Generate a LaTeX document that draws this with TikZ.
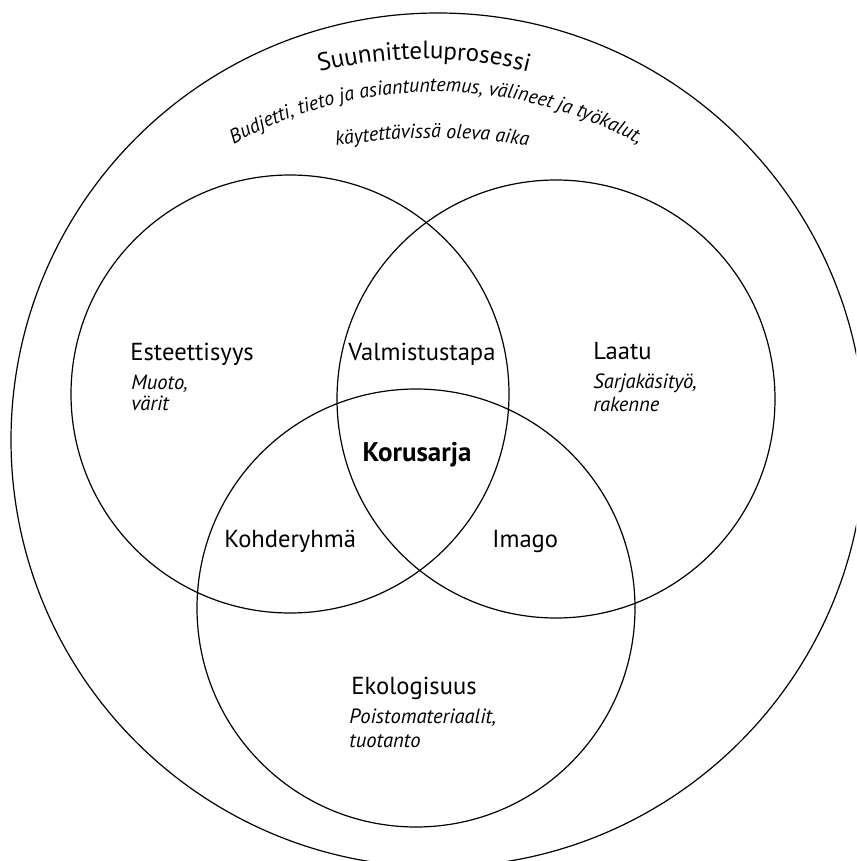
\documentclass[tikz,border=0pt]{standalone}
\usepackage{fontspec}
\setmainfont{PT Sans}
\usetikzlibrary{decorations.text}

\tikzset{
  ring/.style={circle, draw, line width=0.6pt, inner sep=0pt, outer sep=0pt, minimum size=#1},
  lbl/.style={anchor=base west, inner sep=0pt, font=\fontsize{12.3}{14}\selectfont},
  sub/.style={anchor=base west, inner sep=0pt, font=\fontsize{10.3}{12}\selectfont\itshape},
  arctext/.style={decorate, decoration={text along path, text align=center, text={#1}}}
}

\begin{document}
\begin{tikzpicture}[x=0.5pt, y=-0.5pt]
    \useasboundingbox (0,0) rectangle (856,861);
    \begin{scope}
        \clip (0,0) rectangle (856,861);
        \node[ring=427pt] (prosessi) at (438,440) {};
    \end{scope}
    \node[ring=219pt] (este) at (290,394) {};
    \node[ring=219pt] (laatu) at (556,399) {};
    \node[ring=219pt] (eko) at (416,608) {};

    % otsikot kaarella
    \path[arctext={|\fontsize{12.5}{15}\selectfont|Suunnitteluprosessi}]
        (424,489) ++(215:430) arc[start angle=215, end angle=325, radius=430];
    \path[arctext={|\fontsize{10}{12}\selectfont\itshape|Budjetti, tieto ja asiantuntemus, välineet ja työkalut,}]
        (436,510) ++(200:418) arc[start angle=200, end angle=340, radius=418];
    \path[arctext={|\fontsize{10}{12}\selectfont\itshape|käytettävissä oleva aika}]
        (432,728) ++(240:590) arc[start angle=240, end angle=300, radius=590];

    \node[lbl] (esteT) at (130,360) {Esteettisyys};
    \node[sub] (esteA) at (131,389) {Muoto,};
    \node[sub] (esteB) at (131,410) {värit};

    \node[lbl] (valm) at (348,360) {Valmistustapa};

    \node[lbl] (laatuT) at (593,359) {Laatu};
    \node[sub] (laatuA) at (593,388) {Sarjakäsityö,};
    \node[sub] (laatuB) at (593,411) {rakenne};

    \node[anchor=base, inner sep=0pt, font=\fontsize{13.5}{15}\selectfont\bfseries] (koru) at (417,461) {Korusarja};

    \node[lbl] (kohde) at (224,547) {Kohderyhmä};
    \node[lbl] (imago) at (492,547) {Imago};

    \node[lbl] (ekoT) at (351,694) {Ekologisuus};
    \node[sub] (ekoA) at (349,723) {Poistomateriaalit,};
    \node[sub] (ekoB) at (349,747) {tuotanto};
\end{tikzpicture}
\end{document}
